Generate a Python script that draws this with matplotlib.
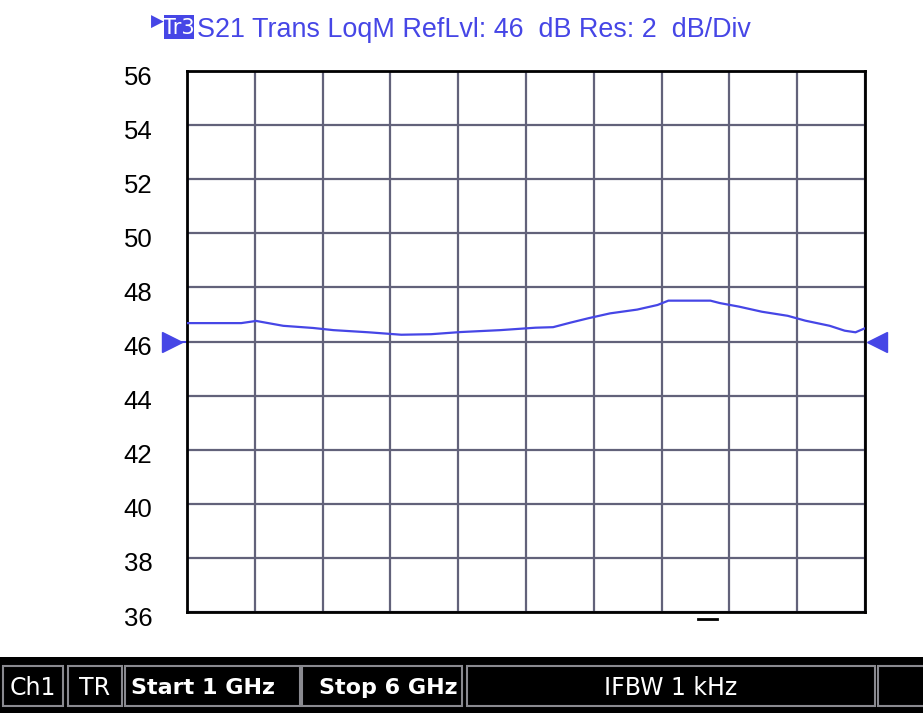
import matplotlib.pyplot as plt
from matplotlib.patches import Rectangle
from matplotlib.transforms import ScaledTranslation, blended_transform_factory

# trace, GHz / dB
freq_ghz = [1.0, 1.40, 1.51, 1.71, 1.93, 2.08, 2.34, 2.58, 2.80, 3.02, 3.31,
            3.57, 3.70, 3.83, 3.96, 4.12, 4.32, 4.47, 4.55, 4.86, 4.93, 5.07,
            5.24, 5.43, 5.56, 5.74, 5.85, 5.93, 6.0]
s21_db = [46.68, 46.68, 46.76, 46.58, 46.50, 46.42, 46.34, 46.25, 46.27, 46.35,
          46.42, 46.51, 46.53, 46.70, 46.86, 47.04, 47.18, 47.35, 47.51, 47.51,
          47.42, 47.29, 47.10, 46.95, 46.77, 46.58, 46.40, 46.34, 46.49]

ref_level = 46
y_ticks = list(range(36, 57, 2))
title = "S21 Trans LoqM RefLvl: 46  dB Res: 2  dB/Div"
status_cells = [("Ch1", 3, 63, "normal"), ("TR", 68, 122, "normal"),
                ("Start 1 GHz", 125, 300, "bold"), ("Stop 6 GHz", 302, 462, "bold"),
                ("IFBW 1 kHz", 467, 875, "normal"), ("", 878, 930, "normal")]

BLUE = "#4646e6"
GRID = "#62627a"
W, H = 923, 718

fig = plt.figure(figsize=(W / 100, H / 100), dpi=100)
ax = fig.add_axes([187 / W, 1 - 612 / H, (865 - 187) / W, (612 - 71) / H])

ax.plot(freq_ghz, s21_db, color=BLUE, lw=1.6, zorder=3)
ax.set_xlim(1, 6)
ax.set_ylim(36, 56)
ax.set_yticks(y_ticks)
ax.set_xticks([1 + i * 0.5 for i in range(11)])
ax.grid(True, color=GRID, lw=1.6)
ax.tick_params(length=0, labelbottom=False)
ax.tick_params(axis="y", pad=25, labelsize=18.5)
# the screen draws the numbers a few pixels below their grid line
shift = ScaledTranslation(0, -4 / 100, fig.dpi_scale_trans)
for lbl in ax.get_yticklabels():
    lbl.set_fontfamily("Liberation Sans")
    lbl.set_verticalalignment("center_baseline")
    lbl.set_transform(lbl.get_transform() + shift)
for sp in ax.spines.values():
    sp.set_color("black")
    sp.set_linewidth(2)

# reference level markers on both sides
tr = blended_transform_factory(ax.transAxes, ax.transData)
ax.plot([-0.022], [ref_level], marker=">", ms=14, color=BLUE, transform=tr, clip_on=False)
ax.plot([-0.022, 0], [ref_level, ref_level], color=BLUE, lw=1.5, transform=tr, clip_on=False)
ax.plot([1.018], [ref_level], marker="<", ms=15, color=BLUE, transform=tr, clip_on=False)
# small marker dash below the axis
ax.plot([4.77, 4.91], [35.75, 35.75], color="black", lw=2, clip_on=False)

# header
fig.text(151 / W, 1 - 22 / H, "\u25b6", color=BLUE, fontsize=12, va="center",
         family=["DejaVu Sans"])
fig.patches.append(Rectangle((164 / W, 1 - 39 / H), 30 / W, 24 / H,
                             transform=fig.transFigure, fc=BLUE, ec="none"))
fig.text(179 / W, 1 - 28 / H, "Tr3", color="white", fontsize=15, ha="center",
         va="center", family="Liberation Sans Narrow")
fig.text(197 / W, 1 - 30 / H, title, color=BLUE, fontsize=19.4, va="center",
         family="Liberation Sans")

# status bar
fig.patches.append(Rectangle((0, 1 - 713 / H), 1, 56 / H, transform=fig.transFigure,
                             fc="black", ec="none"))
for text, x0, x1, weight in status_cells:
    fig.patches.append(Rectangle((x0 / W, 1 - 706 / H), (x1 - x0) / W, 40 / H,
                                 transform=fig.transFigure, fc="black",
                                 ec="#8a8a90", lw=1.5))
    if not text:
        continue
    if weight == "bold":
        fig.text((x0 + 6) / W if text.startswith("Start") else (x1 - 4) / W,
                 1 - 688 / H, text, color="white", fontsize=16, fontweight="bold",
                 ha="left" if text.startswith("Start") else "right", va="center",
                 family=["DejaVu Sans"])
    else:
        fig.text((x0 + x1) / 2 / W, 1 - 688 / H, text, color="white", fontsize=17,
                 ha="center", va="center", family=["Liberation Sans Narrow", "DejaVu Sans"])

fig.savefig("out.png", dpi=100)
